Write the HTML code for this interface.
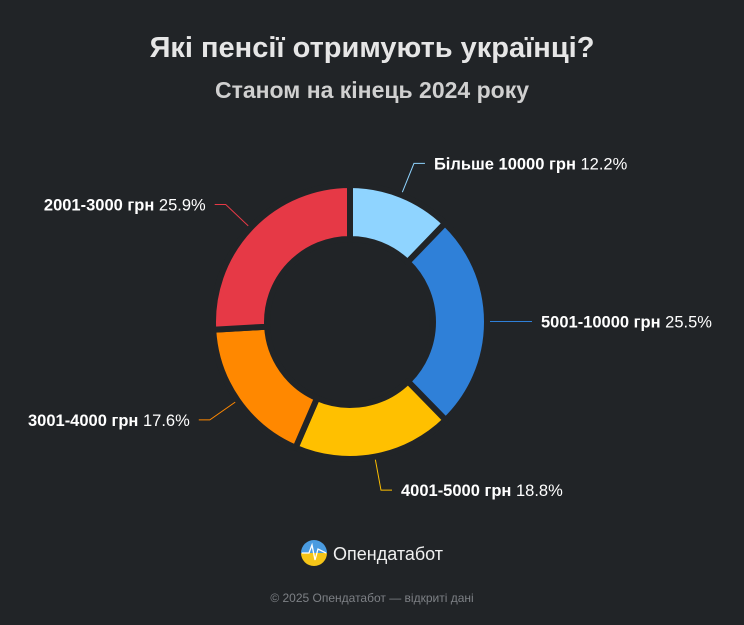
<!DOCTYPE html>
<html><head><meta charset="utf-8"><style>
html,body{margin:0;padding:0;background:#212427;}
body{width:744px;height:620px;overflow:hidden;font-family:"Liberation Sans","DejaVu Sans",sans-serif;}
</style></head><body>
<svg width="744" height="620" viewBox="0 0 744 620">
<rect width="744" height="620" fill="#212427"/>
<text x="372" y="57" text-anchor="middle" fill="#e6e6e6" font-size="29" font-weight="bold">Які пенсії отримують українці?</text>
<text x="372" y="98" text-anchor="middle" fill="#d0d0d0" font-size="23" font-weight="bold">Станом на кінець 2024 року</text>
<g id="donut"></g>
<g id="labels"></g>
<defs><linearGradient id="lg" x1="0" y1="0" x2="0" y2="1"><stop offset="0.5" stop-color="#4a9be0"/><stop offset="0.5" stop-color="#f5c518"/></linearGradient></defs>
<circle cx="314" cy="553" r="13" fill="url(#lg)"/>
<polyline points="302,553 309,553 312,545 315,560 318,549 326,553" fill="none" stroke="#fff" stroke-width="1.3"/>
<text x="333" y="560" fill="#f0f0f0" font-size="18">Опендатабот</text>
<text x="372" y="602" text-anchor="middle" fill="#7d8085" font-size="12">© 2025 Опендатабот — відкриті дані</text>
</svg>
<script>
const categories = ["Більше 10000 грн","5001-10000 грн","4001-5000 грн","3001-4000 грн","2001-3000 грн"];
const values = [12.2, 25.5, 18.8, 17.6, 25.9];
const colors = ["#8fd4ff","#2f80d8","#ffc000","#ff8800","#e63946"];
const NS="http://www.w3.org/2000/svg";
const cx=350, cy=322, R=137, r0=83;
const total=values.reduce((a,b)=>a+b,0);
function ang(v){return v/total*2*Math.PI;}
function pt(a,rad){return [cx+rad*Math.sin(a), cy-rad*Math.cos(a)];}
const g=document.getElementById('donut'), lg=document.getElementById('labels');
let acc=0;
values.forEach((v,i)=>{
  const a0=ang(acc), a1=ang(acc+v); acc+=v;
  const large=(a1-a0)>Math.PI?1:0;
  const p1=pt(a0,R),p2=pt(a1,R),p3=pt(a1,r0),p4=pt(a0,r0);
  const p=document.createElementNS(NS,'path');
  p.setAttribute('d',`M${p1} A${R},${R} 0 ${large} 1 ${p2} L${p3} A${r0},${r0} 0 ${large} 0 ${p4} Z`);
  p.setAttribute('fill',colors[i]);
  p.setAttribute('stroke','#212427');
  p.setAttribute('stroke-width','6');
  p.setAttribute('stroke-linejoin','round');
  
  
  g.appendChild(p);
  const am=(a0+a1)/2;
  const s=pt(am,R+3), e=pt(am,R+34);
  const right=Math.sin(am)>=0;
  const hx=e[0]+(right?11:-11);
  const l=document.createElementNS(NS,'polyline');
  l.setAttribute('points',`${s} ${e} ${hx},${e[1]}`);
  l.setAttribute('fill','none');l.setAttribute('stroke',colors[i]);l.setAttribute('stroke-width','1');
  
  
  lg.appendChild(l);
  const t=document.createElementNS(NS,'text');
  t.setAttribute('x',hx+(right?9:-9));t.setAttribute('y',e[1]+6);
  t.setAttribute('text-anchor',right?'start':'end');
  t.setAttribute('fill','#ffffff');t.setAttribute('font-size','16.5');
  
  
  const b=document.createElementNS(NS,'tspan');b.setAttribute('font-weight','bold');b.textContent=categories[i]+' ';
  const n=document.createElementNS(NS,'tspan');n.textContent=v.toFixed(1)+'%';
  t.appendChild(b);t.appendChild(n);lg.appendChild(t);
});
</script>
</body></html>
